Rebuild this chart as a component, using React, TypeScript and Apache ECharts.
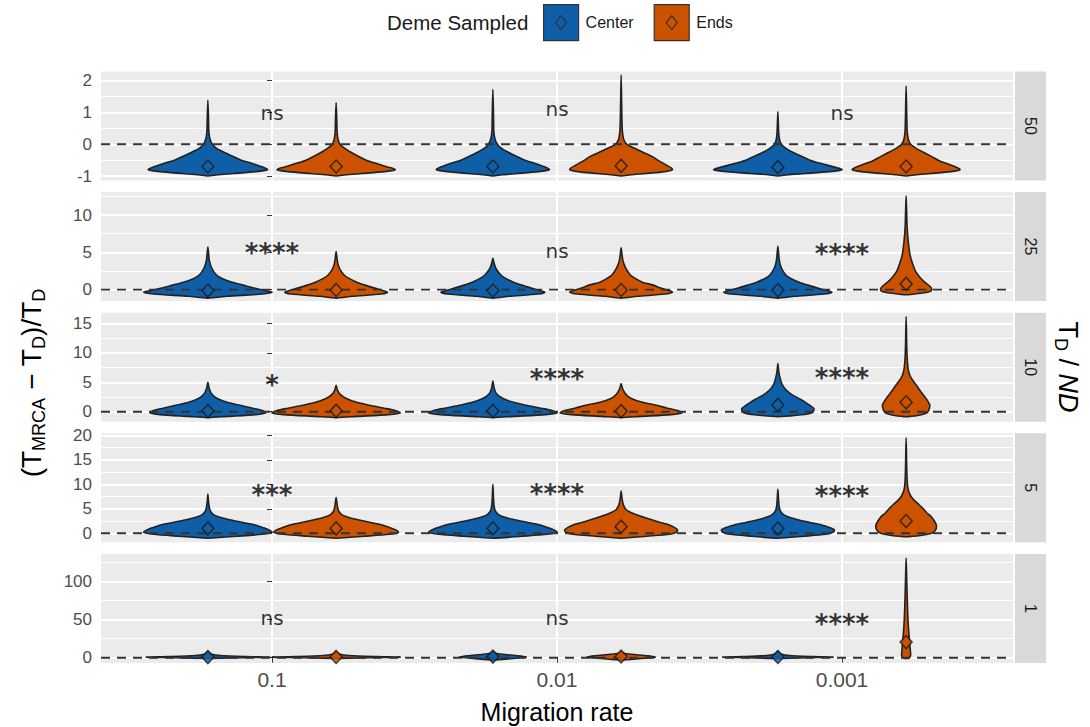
import React, { useEffect, useRef } from "react";
import * as echarts from "echarts";

// ---------- data ----------
const migrationRates = ["0.1", "0.01", "0.001"];
const panelLabels = ["50", "25", "10", "5", "1"];
const groups = ["Center", "Ends"];

const yMin = [-1.14, -1.53, -1.7, -1.84, -6.8];
const yMax = [2.29, 13.1, 16.84, 20.4, 136.6];
const yMajor = [[-1, 0, 1, 2], [0, 5, 10], [0, 5, 10, 15], [0, 5, 10, 15, 20], [0, 50, 100]];
const yMinor = [[-0.5, 0.5, 1.5], [2.5, 7.5, 12.5], [2.5, 7.5, 12.5], [2.5, 7.5, 12.5, 17.5], [25, 75, 125]];

const meanCenter = [[-0.7, -0.7, -0.72], [-0.13, -0.12, -0.06], [0.12, 0.12, 1.15], [1.0, 1.0, 1.0], [0.9, 1.5, 1.0]];
const meanEnds = [[-0.7, -0.68, -0.7], [-0.05, -0.05, 0.77], [0.15, 0.1, 1.6], [1.0, 1.35, 2.5], [1.0, 1.6, 20.6]];

const sigLabels = [["ns", "ns", "ns"], ["****", "ns", "****"], ["*", "****", "****"], ["***", "****", "****"], ["ns", "ns", "****"]];
const sigY = [[0.97, 1.12, 0.97], [4.85, 5.15, 4.8], [4.5, 5.56, 5.7], [7.8, 8.0, 7.6], [52, 52, 44]];

// violin density profiles: [y, relative half-width] per migration rate
const violinCenter50 = [
  [[-1.0, 0], [-0.96, 0.15], [-0.92, 0.4], [-0.86, 0.75], [-0.8, 0.93], [-0.74, 0.88], [-0.6, 0.68], [-0.5, 0.52], [-0.39, 0.4], [-0.25, 0.25], [-0.12, 0.13], [0, 0.07], [0.15, 0.035], [0.4, 0.015], [0.8, 0.01], [1.39, 0]],
  [[-1.0, 0], [-0.96, 0.14], [-0.92, 0.38], [-0.86, 0.71], [-0.8, 0.88], [-0.74, 0.84], [-0.6, 0.65], [-0.5, 0.5], [-0.39, 0.38], [-0.25, 0.24], [-0.12, 0.13], [0, 0.07], [0.15, 0.035], [0.4, 0.015], [0.9, 0.01], [1.73, 0]],
  [[-1.0, 0], [-0.96, 0.15], [-0.92, 0.42], [-0.86, 0.8], [-0.8, 1.0], [-0.74, 0.92], [-0.6, 0.66], [-0.5, 0.5], [-0.39, 0.38], [-0.25, 0.23], [-0.12, 0.12], [0, 0.055], [0.15, 0.025], [0.4, 0.012], [1.03, 0]],
];
const violinEnds50 = [
  [[-1.0, 0], [-0.96, 0.15], [-0.92, 0.4], [-0.86, 0.75], [-0.8, 0.92], [-0.74, 0.85], [-0.6, 0.62], [-0.5, 0.47], [-0.39, 0.36], [-0.25, 0.23], [-0.12, 0.13], [0, 0.06], [0.15, 0.03], [0.4, 0.015], [0.8, 0.01], [1.31, 0]],
  [[-1.0, 0], [-0.96, 0.15], [-0.92, 0.38], [-0.86, 0.68], [-0.8, 0.8], [-0.74, 0.78], [-0.6, 0.66], [-0.5, 0.57], [-0.39, 0.49], [-0.25, 0.34], [-0.12, 0.2], [0, 0.09], [0.15, 0.04], [0.4, 0.02], [0.8, 0.012], [1.3, 0.008], [2.18, 0]],
  [[-1.0, 0], [-0.96, 0.15], [-0.92, 0.38], [-0.86, 0.7], [-0.8, 0.84], [-0.74, 0.8], [-0.6, 0.62], [-0.5, 0.5], [-0.39, 0.4], [-0.25, 0.27], [-0.12, 0.15], [0, 0.07], [0.15, 0.035], [0.4, 0.017], [0.9, 0.01], [1.83, 0]],
];
const violinCenter25 = [
  [[-1.15, 0], [-0.9, 0.3], [-0.6, 0.85], [-0.35, 1.0], [-0.1, 0.88], [0.2, 0.72], [0.6, 0.55], [1.0, 0.38], [1.5, 0.22], [2.0, 0.13], [2.9, 0.06], [3.8, 0.025], [4.8, 0.012], [5.7, 0]],
  [[-1.15, 0], [-0.9, 0.25], [-0.6, 0.7], [-0.35, 0.81], [-0.1, 0.72], [0.2, 0.6], [0.6, 0.45], [1.0, 0.32], [1.5, 0.2], [2.0, 0.12], [2.8, 0.05], [3.5, 0.02], [4.2, 0]],
  [[-1.15, 0], [-0.9, 0.26], [-0.6, 0.72], [-0.35, 0.84], [-0.1, 0.76], [0.2, 0.62], [0.6, 0.47], [1.0, 0.33], [1.5, 0.2], [2.0, 0.12], [2.9, 0.055], [3.8, 0.025], [4.8, 0.012], [5.8, 0]],
];
const violinEnds25 = [
  [[-1.15, 0], [-0.9, 0.25], [-0.6, 0.7], [-0.35, 0.8], [-0.1, 0.72], [0.2, 0.6], [0.6, 0.45], [1.0, 0.32], [1.5, 0.2], [2.0, 0.12], [2.9, 0.05], [3.8, 0.02], [5.1, 0]],
  [[-1.15, 0], [-0.9, 0.25], [-0.6, 0.68], [-0.35, 0.8], [-0.1, 0.74], [0.2, 0.62], [0.6, 0.5], [1.0, 0.33], [1.5, 0.22], [2.0, 0.14], [2.9, 0.07], [3.8, 0.03], [4.8, 0.012], [5.6, 0]],
  [[-0.7, 0], [-0.5, 0.22], [-0.3, 0.36], [0, 0.4], [0.45, 0.37], [1.07, 0.28], [1.7, 0.21], [2.4, 0.15], [3.5, 0.1], [4.7, 0.06], [6.7, 0.03], [8.5, 0.015], [10.5, 0.008], [12.6, 0]],
];
const violinCenter10 = [
  [[-1.0, 0], [-0.8, 0.3], [-0.5, 0.75], [-0.2, 0.9], [0.2, 0.85], [0.6, 0.7], [1.1, 0.5], [1.6, 0.3], [2.3, 0.14], [3.0, 0.06], [4.0, 0.02], [5.0, 0]],
  [[-1.0, 0], [-0.8, 0.32], [-0.5, 0.82], [-0.2, 1.0], [0.2, 0.92], [0.6, 0.75], [1.1, 0.52], [1.6, 0.32], [2.3, 0.15], [3.0, 0.06], [4.0, 0.02], [5.2, 0]],
  [[-0.85, 0], [-0.6, 0.3], [-0.3, 0.5], [0, 0.55], [0.57, 0.56], [1.0, 0.51], [1.42, 0.45], [2.0, 0.37], [2.83, 0.23], [3.68, 0.13], [4.8, 0.06], [5.95, 0.03], [7.0, 0.012], [8.2, 0]],
];
const violinEnds10 = [
  [[-1.0, 0], [-0.8, 0.32], [-0.5, 0.82], [-0.2, 1.0], [0.2, 0.92], [0.6, 0.75], [1.1, 0.52], [1.6, 0.32], [2.3, 0.15], [3.0, 0.06], [3.7, 0.02], [4.5, 0]],
  [[-1.0, 0], [-0.8, 0.3], [-0.5, 0.78], [-0.2, 0.95], [0.2, 0.88], [0.6, 0.72], [1.1, 0.55], [1.6, 0.33], [2.3, 0.15], [3.0, 0.07], [4.0, 0.02], [4.8, 0]],
  [[-0.85, 0], [-0.6, 0.2], [-0.3, 0.3], [0, 0.34], [0.5, 0.36], [1.13, 0.37], [2.27, 0.31], [3.4, 0.23], [4.5, 0.16], [5.7, 0.08], [6.8, 0.04], [8.5, 0.02], [11, 0.01], [16.2, 0]],
];
const violinCenter5 = [
  [[-1.0, 0], [-0.6, 0.45], [-0.2, 0.85], [0.2, 1.0], [0.7, 0.95], [1.2, 0.85], [1.7, 0.74], [2.2, 0.55], [2.7, 0.36], [3.2, 0.2], [3.7, 0.1], [4.5, 0.04], [5.5, 0.02], [6.5, 0.01], [8.0, 0]],
  [[-1.0, 0], [-0.6, 0.45], [-0.2, 0.85], [0.2, 1.0], [0.7, 0.95], [1.2, 0.85], [1.7, 0.74], [2.2, 0.55], [2.7, 0.36], [3.2, 0.2], [3.7, 0.1], [4.5, 0.04], [5.5, 0.02], [7.0, 0.01], [10.0, 0]],
  [[-1.0, 0], [-0.6, 0.4], [-0.2, 0.75], [0.2, 0.86], [0.7, 0.88], [1.2, 0.8], [1.7, 0.68], [2.2, 0.5], [2.7, 0.33], [3.2, 0.19], [3.7, 0.1], [4.5, 0.04], [5.5, 0.02], [7.0, 0.01], [9.0, 0]],
];
const violinEnds5 = [
  [[-1.0, 0], [-0.6, 0.44], [-0.2, 0.83], [0.2, 0.97], [0.7, 0.93], [1.2, 0.83], [1.7, 0.72], [2.2, 0.54], [2.7, 0.36], [3.2, 0.2], [3.7, 0.1], [4.5, 0.04], [5.5, 0.02], [7.3, 0]],
  [[-1.0, 0], [-0.6, 0.4], [-0.2, 0.76], [0.2, 0.86], [0.7, 0.88], [1.2, 0.83], [1.7, 0.75], [2.4, 0.56], [3.1, 0.39], [4.1, 0.18], [4.8, 0.08], [5.8, 0.035], [7.0, 0.015], [8.6, 0]],
  [[-0.7, 0], [-0.4, 0.25], [0, 0.4], [0.5, 0.45], [1.0, 0.47], [1.7, 0.47], [2.5, 0.44], [3.4, 0.39], [4.2, 0.32], [5.1, 0.26], [6.1, 0.18], [7.1, 0.1], [8.5, 0.04], [10, 0.02], [13, 0.01], [19.5, 0]],
];
const violinCenter1 = [
  [[-1, 0], [0, 0.5], [0.7, 0.96], [1.5, 0.6], [3, 0.2], [5, 0.05], [8, 0]],
  [[-3, 0], [-1, 0.3], [0.8, 0.52], [2.5, 0.4], [4.5, 0.15], [6, 0.04], [8, 0]],
  [[-1, 0], [0, 0.45], [0.7, 0.86], [1.5, 0.55], [3, 0.18], [5, 0.05], [8, 0]],
];
const violinEnds1 = [
  [[-1, 0], [0, 0.5], [0.7, 1.0], [1.5, 0.62], [3, 0.2], [5, 0.05], [8, 0]],
  [[-3, 0], [-1, 0.3], [0.8, 0.53], [2.5, 0.42], [4.5, 0.16], [6, 0.04], [8, 0]],
  [[-1, 0], [0, 0.05], [3, 0.07], [10, 0.065], [20, 0.055], [30, 0.045], [45, 0.032], [60, 0.024], [80, 0.017], [100, 0.01], [131, 0]],
];

const violinsCenter = [violinCenter50, violinCenter25, violinCenter10, violinCenter5, violinCenter1];
const violinsEnds = [violinEnds50, violinEnds25, violinEnds10, violinEnds5, violinEnds1];

// ---------- style ----------
const BLUE = "#0F5EA8";
const ORANGE = "#CC5200";
const OUTLINE = "#222222";
const FONT = "'Liberation Sans', Arial, sans-serif";
const HALF = 0.225;
const DODGE = 0.225;
const panelTops = [71.5, 192, 312.7, 433.3, 553.9];
const PANEL_H = 109;
const PANEL_LEFT = 101;
const PANEL_RIGHT = 1013;

function violinRender(profiles: number[][][], offset: number, fill: string) {
  return function (params: any, api: any) {
    const prof = profiles[params.dataIndex];
    const xc = api.value(0) + offset;
    const pts: number[][] = [];
    for (let k = 0; k < prof.length; k++) {
      pts.push(api.coord([xc + prof[k][1] * HALF, prof[k][0]]));
    }
    for (let k = prof.length - 2; k >= 1; k--) {
      pts.push(api.coord([xc - prof[k][1] * HALF, prof[k][0]]));
    }
    return {
      type: "polygon",
      shape: { points: pts, smooth: 0.25 },
      style: { fill, stroke: OUTLINE, lineWidth: 1.6 },
    };
  };
}

const LEGEND_ICON = "path://M0,0L35,0L35,36L0,36Z M17.5,11L23,18L17.5,25L12,18Z";

function buildOption() {
  const grid: any[] = [];
  const xAxis: any[] = [];
  const yAxis: any[] = [];
  const series: any[] = [];
  const graphic: any[] = [];
  const rateIdx = migrationRates.map((_, i) => i);

  panelLabels.forEach((lab, p) => {
    const last = p === panelLabels.length - 1;
    grid.push({
      left: PANEL_LEFT,
      width: PANEL_RIGHT - PANEL_LEFT,
      top: panelTops[p],
      height: PANEL_H,
      show: true,
      backgroundColor: "#EBEBEB",
      borderWidth: 0,
    });
    xAxis.push({
      type: "value",
      gridIndex: p,
      min: -0.6,
      max: 2.6,
      axisLine: { show: false },
      axisTick: { show: last, customValues: rateIdx, length: 5, lineStyle: { color: "#333333", width: 1 } },
      axisLabel: {
        show: last,
        customValues: rateIdx,
        formatter: (v: number) => migrationRates[Math.round(v)],
        fontSize: 21,
        color: "#4D4D4D",
        fontFamily: FONT,
        margin: 6,
      },
      splitLine: { show: true, lineStyle: { color: "#FFFFFF", width: 2 } },
    });
    yAxis.push({
      type: "value",
      gridIndex: p,
      min: yMin[p],
      max: yMax[p],
      axisLine: { show: false },
      axisTick: { show: true, customValues: yMajor[p], length: 5, lineStyle: { color: "#333333", width: 1 } },
      axisLabel: { customValues: yMajor[p], fontSize: 17, color: "#4D4D4D", fontFamily: FONT, margin: 9 },
      splitLine: { show: true, lineStyle: { color: "#FFFFFF", width: 2 } },
    });
    yAxis.push({
      type: "value",
      gridIndex: p,
      position: "left",
      min: yMin[p],
      max: yMax[p],
      axisLine: { show: false },
      axisTick: { show: false, customValues: yMinor[p] },
      axisLabel: { show: false, customValues: yMinor[p] },
      splitLine: { show: true, lineStyle: { color: "#FFFFFF", width: 1 } },
    });

    const yi = p * 2;
    series.push({
      type: "custom",
      name: groups[0],
      xAxisIndex: p,
      yAxisIndex: yi,
      z: 2,
      itemStyle: { color: BLUE, borderColor: OUTLINE },
      renderItem: violinRender(violinsCenter[p], -DODGE, BLUE),
      encode: { x: 0, y: 1 },
      data: rateIdx.map((r) => [r, meanCenter[p][r]]),
    });
    series.push({
      type: "custom",
      name: groups[1],
      xAxisIndex: p,
      yAxisIndex: yi,
      z: 2,
      itemStyle: { color: ORANGE, borderColor: OUTLINE },
      renderItem: violinRender(violinsEnds[p], DODGE, ORANGE),
      encode: { x: 0, y: 1 },
      data: rateIdx.map((r) => [r, meanEnds[p][r]]),
    });
    series.push({
      type: "line",
      xAxisIndex: p,
      yAxisIndex: yi,
      z: 3,
      symbol: "none",
      silent: true,
      lineStyle: { color: "#333333", width: 1.9, type: [9, 7] },
      data: [[-0.6, 0], [2.6, 0]],
    });
    series.push({
      type: "scatter",
      xAxisIndex: p,
      yAxisIndex: yi,
      z: 4,
      symbol: "diamond",
      symbolSize: [12, 13],
      itemStyle: { color: BLUE, borderColor: "#1A1A1A", borderWidth: 1.5 },
      data: rateIdx.map((r) => [r - DODGE, meanCenter[p][r]]),
    });
    series.push({
      type: "scatter",
      xAxisIndex: p,
      yAxisIndex: yi,
      z: 4,
      symbol: "diamond",
      symbolSize: [12, 13],
      itemStyle: { color: ORANGE, borderColor: "#1A1A1A", borderWidth: 1.5 },
      data: rateIdx.map((r) => [r + DODGE, meanEnds[p][r]]),
    });
    series.push({
      type: "scatter",
      xAxisIndex: p,
      yAxisIndex: yi,
      z: 5,
      symbolSize: 0,
      silent: true,
      data: rateIdx.map((r) => {
        const txt = sigLabels[p][r];
        const star = txt.indexOf("*") >= 0;
        return {
          value: [r, sigY[p][r]],
          label: {
            show: true,
            position: "inside",
            formatter: txt,
            fontSize: star ? 26 : 20,
            fontWeight: star ? "bold" : "normal",
            fontFamily: "'DejaVu Sans', sans-serif",
            color: "#000000",
            textBorderWidth: 0,
            textBorderColor: "transparent",
          },
        };
      }),
    });

    // facet strip
    graphic.push({
      type: "rect",
      shape: { x: 1015, y: panelTops[p], width: 31, height: PANEL_H },
      style: { fill: "#D9D9D9" },
      silent: true,
    });
    graphic.push({
      type: "text",
      x: 1030.5,
      y: panelTops[p] + PANEL_H / 2,
      rotation: -Math.PI / 2,
      style: { text: lab, fontSize: 16, fontFamily: FONT, fill: "#1A1A1A", textAlign: "center", textVerticalAlign: "middle" },
      silent: true,
    });
  });

  // titles
  graphic.push({
    type: "text",
    x: 557,
    y: 712,
    style: { text: "Migration rate", fontSize: 25, fontFamily: FONT, fill: "#000000", textAlign: "center", textVerticalAlign: "middle" },
    silent: true,
  });
  graphic.push({
    type: "text",
    x: 31,
    y: 383,
    rotation: Math.PI / 2,
    style: {
      text: "(T{sub|MRCA} − T{sub|D})/T{sub|D}",
      fontSize: 28,
      fontFamily: FONT,
      fill: "#000000",
      textAlign: "center",
      textVerticalAlign: "middle",
      rich: { sub: { fontSize: 18, fontFamily: FONT, fill: "#000000", padding: [15, 0, 0, 0] } },
    },
    silent: true,
  });
  graphic.push({
    type: "text",
    x: 1068,
    y: 367,
    rotation: -Math.PI / 2,
    style: {
      text: "T{sub|D} / {it|ND}",
      fontSize: 27,
      fontFamily: FONT,
      fill: "#000000",
      textAlign: "center",
      textVerticalAlign: "middle",
      rich: {
        sub: { fontSize: 18, fontFamily: FONT, fill: "#000000", padding: [14, 0, 0, 0] },
        it: { fontSize: 27, fontFamily: FONT, fontStyle: "italic", fill: "#000000" },
      },
    },
    silent: true,
  });
  graphic.push({
    type: "text",
    x: 387,
    y: 22,
    style: { text: "Deme Sampled", fontSize: 20.5, fontFamily: FONT, fill: "#1A1A1A", textAlign: "left", textVerticalAlign: "middle" },
    silent: true,
  });

  return {
    animation: false,
    backgroundColor: "#FFFFFF",
    grid,
    xAxis,
    yAxis,
    series,
    graphic,
    legend: {
      left: 543,
      top: 4,
      padding: 0,
      itemWidth: 35,
      itemHeight: 36,
      itemGap: 20,
      selectedMode: false,
      textStyle: { fontSize: 16, color: "#1A1A1A", fontFamily: FONT, padding: [0, 0, 0, 2] },
      data: [
        { name: groups[0], icon: LEGEND_ICON, itemStyle: { color: BLUE, borderColor: "#333333", borderWidth: 1.2 } },
        { name: groups[1], icon: LEGEND_ICON, itemStyle: { color: ORANGE, borderColor: "#333333", borderWidth: 1.2 } },
      ],
    },
  };
}

export default function App() {
  const ref = useRef<HTMLDivElement>(null);
  useEffect(() => {
    if (!ref.current) return;
    const chart = echarts.init(ref.current, null, { renderer: "svg" });
    chart.setOption(buildOption() as any);
    return () => chart.dispose();
  }, []);
  return (
    <div
      ref={ref}
      style={{ position: "absolute", left: 0, top: 0, width: 1090, height: 727, background: "#FFFFFF" }}
    />
  );
}
